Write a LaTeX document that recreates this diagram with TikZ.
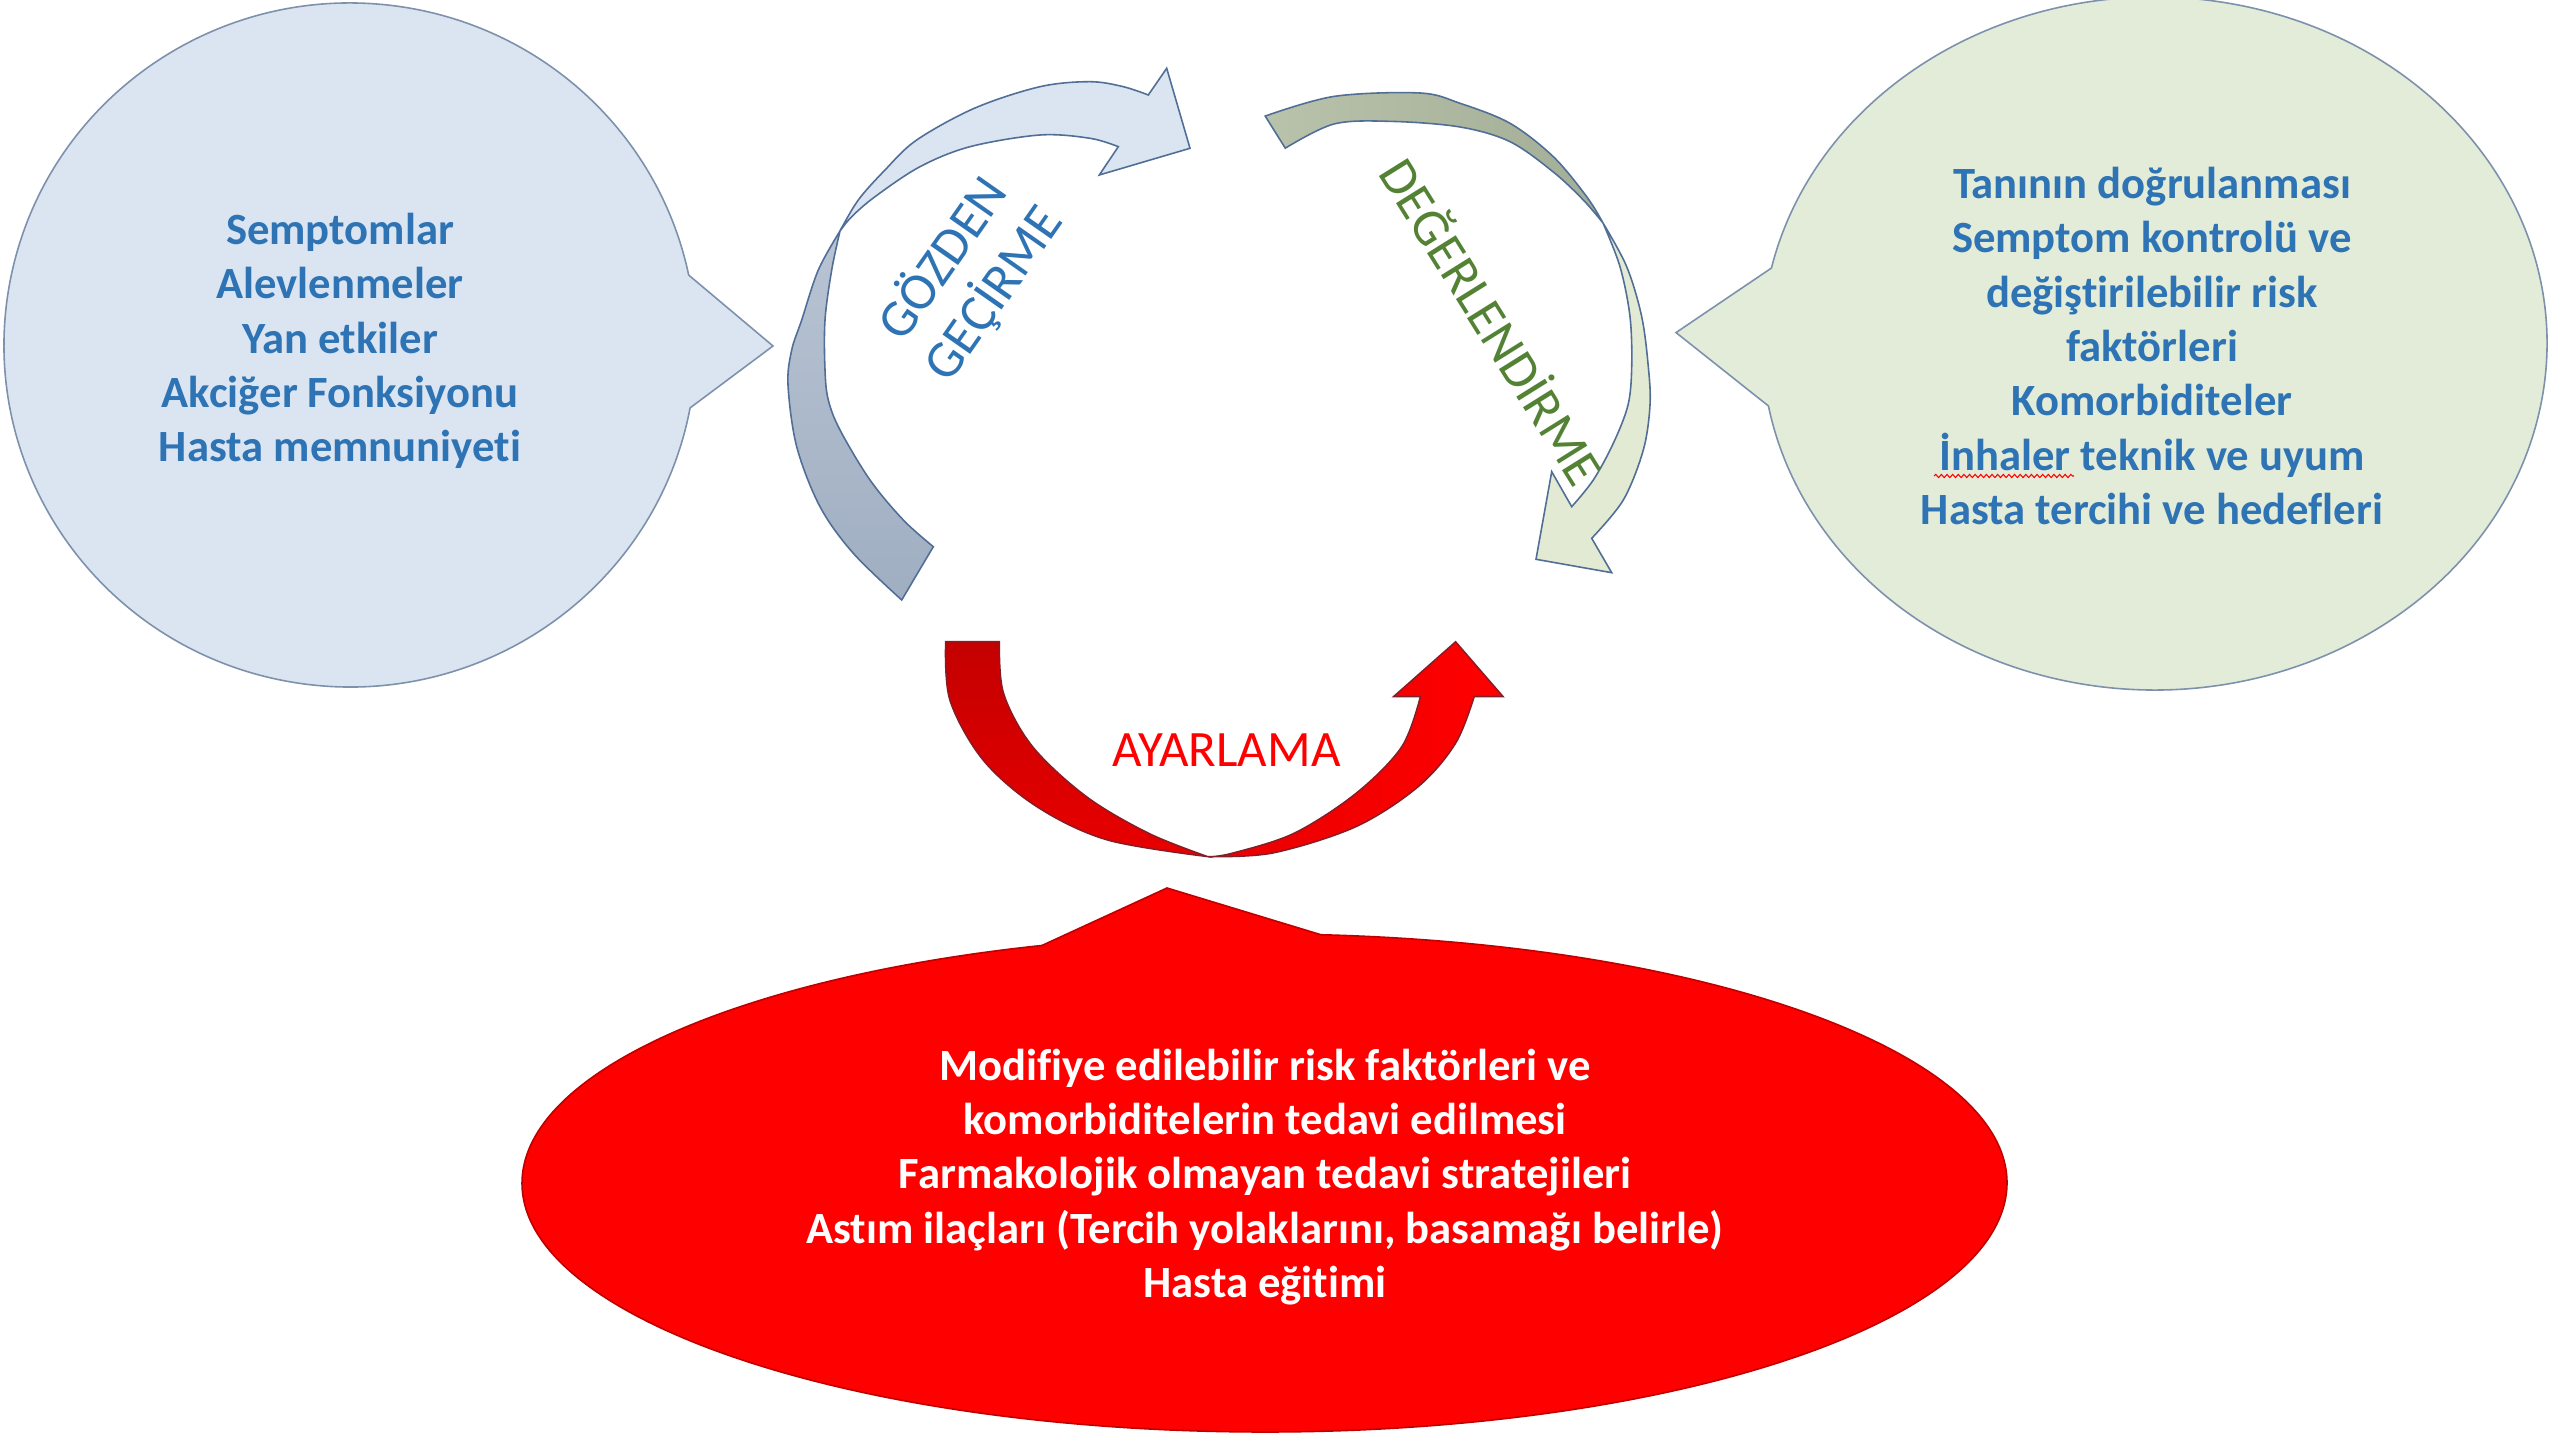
\documentclass[tikz,border=0pt]{standalone}
\usepackage{fontspec}
\setmainfont{Carlito}[Ligatures={NoCommon}]
\usetikzlibrary{decorations.pathmorphing}
\definecolor{bubblue}{RGB}{219,229,242}
\definecolor{bubgreen}{RGB}{227,235,217}
\definecolor{bubedge}{RGB}{125,145,172}
\definecolor{redfill}{RGB}{255,0,0}
\definecolor{rededge}{RGB}{190,0,0}
\definecolor{arrowedge}{RGB}{80,110,150}
\definecolor{gzlight}{RGB}{219,228,241}
\definecolor{gzdarkA}{RGB}{184,196,211}
\definecolor{gzdarkB}{RGB}{160,174,194}
\definecolor{dgdarkA}{RGB}{163,174,150}
\definecolor{dgdarkB}{RGB}{185,194,170}
\definecolor{dglight}{RGB}{226,234,212}
\definecolor{txtblue}{RGB}{46,116,181}
\definecolor{txtgreen}{RGB}{84,130,53}
\definecolor{redA}{RGB}{196,0,0}
\definecolor{redB}{RGB}{232,0,0}
\definecolor{redline}{RGB}{130,30,40}
\begin{document}
\begin{tikzpicture}[x=0.01cm,y=-0.01cm,
  bubtxt/.style={align=center, font=\fontsize{12.7}{15.45}\selectfont\bfseries, inner sep=0pt},
  lbl/.style={align=center, font=\fontsize{15}{17.5}\selectfont, inner sep=0pt},
  arrline/.style={draw=arrowedge, line width=0.45pt, line join=miter},
  redarr/.style={draw=redline, line width=0.4pt, line join=miter},
  bubline/.style={line width=0.45pt, line join=miter}
]
\useasboundingbox (0,0) rectangle (2560,1440);
\fill[white] (0,0) rectangle (2560,1440);

% speech bubbles
\path[bubline, fill=bubblue, draw=bubedge]
  (350,345) ++(10.6:346 and 342)
  arc[start angle=10.6, end angle=348.2, x radius=346, y radius=342]
  -- (773,346) -- cycle;
\path[bubline, fill=bubgreen, draw=bubedge]
  (2154.5,343.5) ++(192.58:392.5 and 346.5)
  arc[start angle=192.58, end angle=529.61, x radius=392.5, y radius=346.5]
  -- (1676,332.6) -- cycle;
\path[bubline, fill=redfill, draw=rededge]
  (1264.5,1183) ++(274.36:742.5 and 249)
  arc[start angle=274.36, end angle=612.56, x radius=742.5, y radius=249]
  -- (1167,888) -- cycle;

% GOZDEN GECIRME arrow
\path[arrline, top color=gzdarkA, bottom color=gzdarkB]
  plot[smooth, tension=0.55] coordinates {(901.7,600) (853.3,553.3) (820,506.7) (796.7,446.7) (788,385) (791.7,350) (801.7,320) (818.3,270) (840,231)}
  -- plot[smooth, tension=0.55] coordinates {(840,231) (831.7,270) (825,320) (825,370) (828.3,400) (840,430) (870,480) (903.3,520) (933.3,546.7)}
  -- cycle;
\path[arrline, fill=gzlight]
  plot[smooth, tension=0.55] coordinates {(840,231) (858.3,200) (885,170) (916.7,140) (975,108) (1040,86.7) (1090,81.7) (1123.3,86.7) (1148.3,95)}
  -- (1166.7,68.3) -- (1190,148.3) -- (1099.3,175) -- (1118.3,146.7)
  -- plot[smooth, tension=0.55] coordinates {(1118.3,146.7) (1090,138.3) (1040,135) (970,146.7) (920,166.7) (875,196.7) (851.7,216.7) (840,231)}
  -- cycle;

% DEGERLENDIRME arrow
\path[arrline, left color=dgdarkB, right color=dgdarkA]
  plot[smooth, tension=0.55] coordinates {(1265.2,116.1) (1334,96.4) (1420,93) (1460,103.3) (1510,123.3) (1553.3,156.7) (1586.7,196.7) (1603,223)}
  -- plot[smooth, tension=0.55] coordinates {(1603,223) (1583.3,200) (1553.3,172) (1510,141.7) (1460,127) (1391.5,121.4) (1334,124) (1285.3,148.2)}
  -- cycle;
\path[arrline, fill=dglight]
  plot[smooth, tension=0.55] coordinates {(1603,223) (1626.7,266.7) (1641.7,316.7) (1648.3,366.7) (1650,405) (1643.3,450) (1623.3,500) (1591.7,538.3)}
  -- (1611.7,572.7) -- (1536,559.3) -- (1551.7,471.7) -- (1571.7,506.7)
  -- plot[smooth, tension=0.55] coordinates {(1571.7,506.7) (1593.3,480) (1613.3,443.3) (1628,405) (1631.7,366.7) (1630,316.7) (1620,266.7) (1603,223)}
  -- cycle;

% AYARLAMA arrow
\path[redarr, top color=redA, bottom color=redB]
  plot[smooth, tension=0.55] coordinates {(945.6,641.7) (949.8,700) (983,760) (1036.8,806.7) (1107.3,840) (1208,856.7)}
  -- plot[smooth, tension=0.55] coordinates {(1208,856.7) (1148.8,833.3) (1086.6,796.7) (1032.7,746.7) (1003.6,693.3) (999.5,641.7)}
  -- cycle;
\path[redarr, left color=redB, right color=redfill]
  plot[smooth, tension=0.55] coordinates {(1208,856.7) (1273,853) (1356,826.7) (1418.2,786.7) (1455.6,743.3) (1474.2,696.7)}
  -- (1503.2,696.7) -- (1455.6,641.7) -- (1393.4,696.7) -- (1420.3,696.7)
  -- plot[smooth, tension=0.55] coordinates {(1420.3,696.7) (1401.7,746.7) (1356,793.3) (1293.9,833.3) (1231.7,853.3) (1208,856.7)}
  -- cycle;

% arrow labels
\node[lbl, text=txtblue, rotate=55] (gozden) at (968,276) {GÖZDEN\\GEÇİRME};
\node[lbl, text=txtgreen, rotate=-58] (degerlendirme) at (1494,320) {DEĞERLENDİRME};
\node[font=\fontsize{14.5}{17}\selectfont, text=red, inner sep=0pt] (ayarlama) at (1226.5,750) {AYARLAMA};

% bubble texts
\node[bubtxt, text=txtblue] (lefttxt) at (340,341)
  {Semptomlar\\Alevlenmeler\\Yan etkiler\\Akciğer Fonksiyonu\\Hasta memnuniyeti};
\node[bubtxt, text=txtblue] (righttxt) at (2152,346)
  {Tanının doğrulanması\\Semptom kontrolü ve\\değiştirilebilir risk\\faktörleri\\Komorbiditeler\\İnhaler teknik ve uyum\\Hasta tercihi ve hedefleri};
\node[bubtxt, text=white] (redtxt) at (1265,1177)
  {Modifiye edilebilir risk faktörleri ve\\komorbiditelerin tedavi edilmesi\\Farmakolojik olmayan tedavi stratejileri\\Astım ilaçları (Tercih yolaklarını, basamağı belirle)\\Hasta eğitimi};

% spell-check squiggle under "Inhaler"
\draw[red, line width=0.3pt, decorate, decoration={snake, amplitude=0.45pt, segment length=1.6pt}]
  (1934,476) -- (2074,476);
\end{tikzpicture}
\end{document}
